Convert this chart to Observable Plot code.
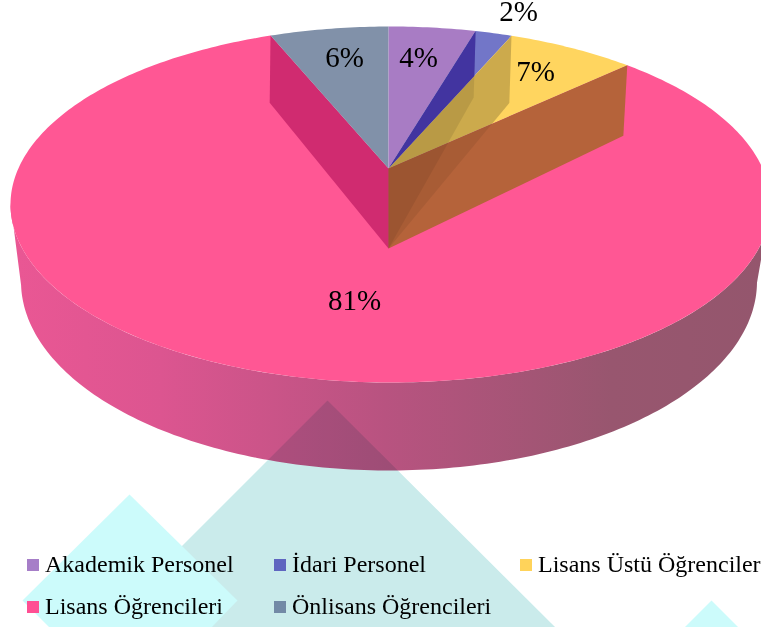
<!DOCTYPE html>
<html>
<head>
<meta charset="utf-8">
<script src="https://cdn.jsdelivr.net/npm/d3@7"></script>
<script src="https://cdn.jsdelivr.net/npm/@observablehq/plot@0.6"></script>
<style>html,body{margin:0;padding:0;background:#fff}svg{display:block}</style>
</head>
<body>
<div id="chart"></div>
<script>
const categories = ["Akademik Personel", "İdari Personel", "Lisans Üstü Öğrenciler", "Lisans Öğrencileri", "Önlisans Öğrencileri"];
const labelPercents = [4, 2, 7, 81, 6];
const drawnShares = [4.5, 1.9, 6.6, 80.85, 6.15];
const topColors = ["#A87CC4", "#7276C8", "#FFD55F", "#FF5794", "#8191A9"];
const legendColors = ["#A67EC8", "#5F66C0", "#FFD35A", "#FF4F93", "#7289A6"];

const W = 761, H = 627;
const topRim = {cx: 390, cy: 204, rx: 380, ry: 178, d: 0.202};
const botRim = {cx: 388.5, cy: 281, rx: 368, ry: 189, d: 0.175};
const apexTop = [388, 168], apexBot = [388, 248];
const startDeg = -0.35;

// percent around the pie -> point on a perspective-projected rim
function rim(e, pct) {
  const t = (startDeg + pct * 3.6) * Math.PI / 180;
  const s = Math.sin(t), c = Math.cos(t), k = 1 + e.d * c;
  const X = s * Math.sqrt(1 - e.d * e.d) / k, Y = (c + e.d) / k;
  return [e.cx + e.rx * X, e.cy - e.ry * Y];
}
function arc(e, p0, p1) {
  const n = Math.max(2, Math.ceil(Math.abs(p1 - p0) * 4));
  return d3.range(n + 1).map(i => rim(e, p0 + (p1 - p0) * i / n));
}
function poly(points, fill, extra = {}) {
  return Plot.line(points, {x: d => d[0], y: d => d[1], fill, stroke: "none", curve: "linear", ...extra});
}
function crossing(a, b, p, q) { // line ab with line pq
  const d = (b[0]-a[0])*(q[1]-p[1]) - (b[1]-a[1])*(q[0]-p[0]);
  const u = ((p[0]-a[0])*(q[1]-p[1]) - (p[1]-a[1])*(q[0]-p[0])) / d;
  return [a[0] + u*(b[0]-a[0]), a[1] + u*(b[1]-a[1])];
}

const cum = d3.cumsum(drawnShares);
const edge = i => (i === 0 ? 0 : cum[i - 1]);

function topSlice(i) { return poly([apexTop, ...arc(topRim, edge(i), cum[i])], topColors[i]); }
function wall(pct, fill, extra) {
  return poly([apexTop, rim(topRim, pct), rim(botRim, pct), apexBot], fill, extra);
}

function gradientDefs() {
  const ns = "http://www.w3.org/2000/svg";
  const defs = document.createElementNS(ns, "defs");
  const g = document.createElementNS(ns, "linearGradient");
  g.setAttribute("id", "wallShade");
  g.setAttribute("gradientUnits", "userSpaceOnUse");
  g.setAttribute("x1", 10); g.setAttribute("x2", 761); g.setAttribute("y1", 0); g.setAttribute("y2", 0);
  [[0, "#EA5794"], [0.2, "#DC5590"], [0.5, "#B85380"], [0.8, "#98566F"], [1, "#94566D"]].forEach(([o, c]) => {
    const s = document.createElementNS(ns, "stop");
    s.setAttribute("offset", o); s.setAttribute("stop-color", c);
    g.appendChild(s);
  });
  defs.appendChild(g);
  return defs;
}

// the outer side wall: top rim between its side extremes, bottom rim back
const outerWall = [...arc(topRim, 28.4, 72.0), ...arc(botRim, 72.0, 28.0)];

const blueCut = crossing(apexTop, rim(topRim, cum[1]), rim(topRim, cum[0]), rim(botRim, cum[0]));
const cut1 = crossing(apexTop, rim(topRim, cum[2]), rim(botRim, cum[1]), apexBot);
const cut0 = crossing(apexTop, rim(topRim, cum[2]), rim(botRim, cum[0]), apexBot);

const labelRows = [
  {t: labelPercents[0], x: 418, y: 57},
  {t: labelPercents[1], x: 518, y: 11},
  {t: labelPercents[2], x: 535, y: 71},
  {t: labelPercents[3], x: 354, y: 300},
  {t: labelPercents[4], x: 344, y: 57}
].map(d => ({...d, s: d.t + "%"}));

const legendX = [27, 274, 520, 27, 274];
const legendY = [565, 565, 565, 607, 607];
const legendRows = categories.map((name, i) => ({name, c: legendColors[i], x: legendX[i], y: legendY[i]}));

const font = "'Liberation Serif','Times New Roman',serif";
const triangleTeal = [[327, 400], [100, 627], [555, 627]];

const plot = Plot.plot({
  width: W, height: H, margin: 0,
  style: {background: "transparent"},
  x: {axis: null, domain: [0, W], range: [0, W]},
  y: {axis: null, domain: [0, H], range: [0, H]},
  marks: [
    gradientDefs,
    poly(triangleTeal, "#ECFFFF"),
    poly(outerWall, "url(#wallShade)"),
    poly([apexTop, ...arc(topRim, cum[2], cum[3])], topColors[3]),
    wall(cum[3], "#D02B70"),
    topSlice(4), topSlice(0), topSlice(1), topSlice(2),
    wall(cum[1], "#000", {fillOpacity: 0.2}),
    wall(cum[0], "#000", {fillOpacity: 0.09}),
    wall(cum[2], "#B5633A"),
    poly([apexTop, cut1, apexBot], "#000", {fillOpacity: 0.07}),
    poly([apexTop, cut0, apexBot], "#000", {fillOpacity: 0.07}),
    poly([apexTop, rim(topRim, cum[0]), blueCut], "#4234A0"),
    // decorative background shapes
    poly(triangleTeal, "#DBEBEB", {mixBlendMode: "multiply"}),
    poly([[129, 494], [22, 600], [49, 627], [211, 627], [237, 600]], "#CCFBFB"),
    poly([[711, 600], [684, 627], [738, 627]], "#CCFBFB"),
    Plot.text(labelRows, {x: "x", y: "y", text: "s", fontFamily: font, fontSize: 29, fill: "#000", lineAnchor: "middle"}),
    Plot.rect(legendRows, {x1: "x", x2: d => d.x + 12, y1: d => d.y - 6, y2: d => d.y + 6, fill: "c"}),
    Plot.text(legendRows, {x: d => d.x + 17.5, y: d => d.y - 1, text: "name", textAnchor: "start", fontFamily: font, fontSize: 24, fill: "#000", lineAnchor: "middle"})
  ]
});
document.getElementById("chart").appendChild(plot);
</script>
</body>
</html>
